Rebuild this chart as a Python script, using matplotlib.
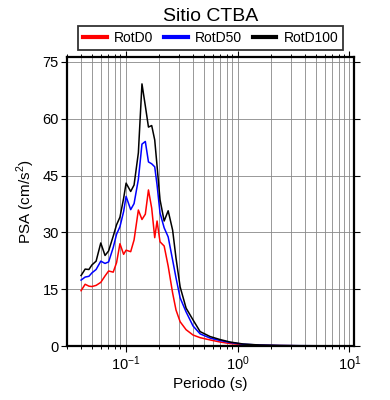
import numpy as np
import matplotlib
matplotlib.use('Agg')
import matplotlib.pyplot as plt
from matplotlib.lines import Line2D
from matplotlib.ticker import LogLocator, FixedLocator, NullFormatter

plt.rcParams['font.family'] = ['Liberation Sans', 'DejaVu Sans']
plt.rcParams['mathtext.fontset'] = 'custom'
plt.rcParams['mathtext.rm'] = 'Liberation Sans'

# periods (s) and spectral pseudo-accelerations (cm/s^2)
periods = [0.040, 0.0435, 0.047, 0.050, 0.0545, 0.060, 0.0655, 0.0705, 0.0775, 0.083,
           0.089, 0.096, 0.101, 0.111, 0.119, 0.130, 0.140, 0.150, 0.160, 0.171,
           0.182, 0.191, 0.203, 0.221, 0.240, 0.263, 0.282, 0.307, 0.347, 0.400,
           0.463, 0.568, 0.698, 0.857, 1.12, 1.58, 2.4, 3.6, 6.7, 10.0]
rotd0 = [14.6, 16.3, 15.8, 15.7, 16.0, 16.8, 18.5, 19.8, 19.5, 22.0,
         27.0, 24.2, 25.3, 24.9, 28.0, 35.9, 33.4, 34.8, 41.2, 36.4,
         28.6, 33.0, 27.5, 26.4, 21.1, 14.0, 9.5, 6.4, 4.3, 2.9,
         2.2, 1.6, 1.05, 0.65, 0.35, 0.18, 0.10, 0.06, 0.04, 0.02]
rotd50 = [17.4, 18.2, 18.4, 19.3, 20.2, 22.4, 21.8, 22.2, 26.0, 29.5,
          31.5, 35.5, 39.5, 36.0, 37.6, 44.0, 53.3, 54.0, 48.6, 48.1,
          47.3, 42.5, 35.1, 31.2, 28.8, 22.7, 18.0, 12.7, 9.0, 5.3,
          3.2, 2.1, 1.45, 0.92, 0.48, 0.24, 0.13, 0.08, 0.05, 0.03]
rotd100 = [18.6, 20.3, 20.2, 21.4, 22.4, 27.2, 23.9, 25.1, 29.0, 32.0,
           34.0, 39.0, 43.0, 40.8, 42.5, 51.0, 69.2, 63.4, 57.8, 58.2,
           54.4, 47.5, 38.6, 33.0, 35.7, 30.6, 23.2, 15.6, 10.0, 6.9,
           3.8, 2.5, 1.7, 1.05, 0.53, 0.26, 0.13, 0.08, 0.05, 0.03]
yticks = [0, 15, 30, 45, 60, 75]

fig = plt.figure(figsize=(3.9, 4.0), dpi=100)
ax = fig.add_axes([0.172, 0.135, 0.736, 0.7225])

ax.plot(periods, rotd0, color='red', lw=1.1)
ax.plot(periods, rotd50, color='blue', lw=1.1)
ax.plot(periods, rotd100, color='black', lw=1.1)

ax.set_xscale('log')
ax.set_xlim(0.03, 11)
ax.set_ylim(0, 76.3)

ax.xaxis.set_major_locator(LogLocator(base=10, numticks=10))
ax.xaxis.set_minor_locator(LogLocator(base=10, subs=np.arange(2, 10), numticks=20))
ax.xaxis.set_minor_formatter(NullFormatter())
ax.yaxis.set_major_locator(FixedLocator(yticks))

ax.grid(True, which='both', axis='x', color='#888888', lw=0.6)
ax.grid(True, which='major', axis='y', color='#888888', lw=0.6)
ax.set_axisbelow(True)

for s in ax.spines.values():
    s.set_linewidth(1.6)
ax.tick_params(which='major', direction='out', length=4, width=0.8,
               top=True, right=True, labelsize=10.5, pad=2)
ax.tick_params(which='minor', direction='out', length=2.5, width=0.7,
               top=True, right=True)

ax.set_xlabel('Periodo (s)', fontsize=11, labelpad=3)
ax.set_ylabel('PSA (cm/s$^2$)', fontsize=11, labelpad=4)
ax.set_title('Sitio CTBA', fontsize=14, pad=26)

handles = [Line2D([], [], color='red', lw=3),
           Line2D([], [], color='blue', lw=3),
           Line2D([], [], color='black', lw=3)]
leg = ax.legend(handles, ['RotD0', 'RotD50', 'RotD100'], ncol=3,
                loc='lower center', bbox_to_anchor=(0.5, 1.025),
                fontsize=10, frameon=True, fancybox=False, borderaxespad=0,
                handlelength=1.7, handletextpad=0.5, columnspacing=0.8,
                borderpad=0.35)
leg.get_frame().set_edgecolor('black')
leg.get_frame().set_linewidth(1.3)

fig.savefig('out.png', dpi=100)
